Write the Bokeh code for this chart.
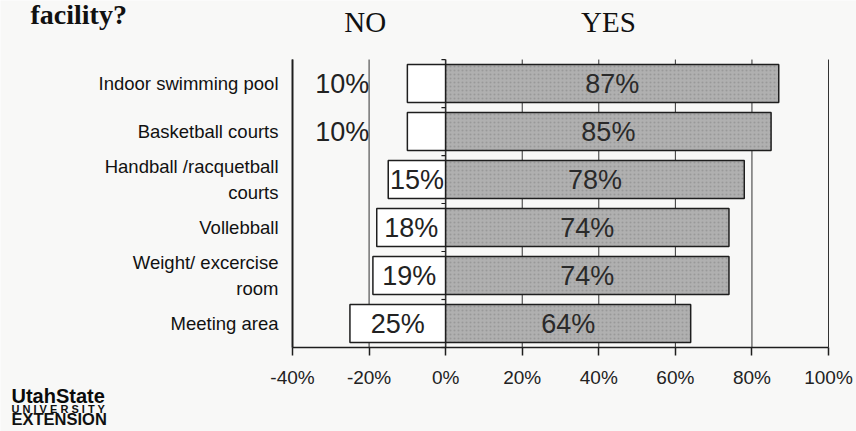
from bokeh.plotting import figure
from bokeh.models import (ColumnDataSource, Range1d, FixedTicker, PrintfTickFormatter,
                          Label, LinearAxis)
from bokeh.core.properties import value
from bokeh.embed import file_html
from bokeh.resources import INLINE

# Survey answers, top row first
facilities = ["Indoor swimming pool", "Basketball courts", "Handball /racquetball\ncourts",
              "Vollebball", "Weight/ excercise\nroom", "Meeting area"]
no_pct = [10, 10, 15, 18, 19, 25]
yes_pct = [87, 85, 78, 74, 74, 64]
x_ticks = [-40, -20, 0, 20, 40, 60, 80, 100]

BG = "#f8f8f7"
INK = "#1e1e1e"
SANS = "Liberation Sans"
SERIF = "Liberation Serif"

rows = list(range(len(facilities)))
row_lo, row_hi = -0.5, len(rows) - 0.5
x_lo, x_hi = x_ticks[0], x_ticks[-1]

# narrow NO bars get their label pushed to the left of the box
no_label_x = [-v / 2 if v >= 14 else -v - 17 for v in no_pct]
yes_label_x = [v / 2 for v in yes_pct]

src = ColumnDataSource(dict(
    y=rows,
    no_left=[-v for v in no_pct],
    yes_right=yes_pct,
    no_txt=[f"{v}%" for v in no_pct],
    yes_txt=[f"{v}%" for v in yes_pct],
    no_x=no_label_x,
    yes_x=yes_label_x,
))

# The frame fills the page; axes are pinned inside it so that the headings
# and the logo around the chart can be placed freely.
p = figure(width=856, height=431, output_backend="svg", toolbar_location=None,
           x_range=Range1d(-116.27, 107.31), y_range=Range1d(7.25, -1.73),
           min_border=0, x_axis_location=None, y_axis_location=None)
p.background_fill_color = BG
p.border_fill_color = BG
p.outline_line_color = None
p.xgrid.visible = False
p.ygrid.visible = False

# vertical grid lines every 20 %, only over the bar area
grid = ColumnDataSource(dict(x=x_ticks, y0=[row_lo] * len(x_ticks), y1=[row_hi] * len(x_ticks),
                             w=[1.6 if t in (x_lo, 0) else 1.0 for t in x_ticks]))
p.segment(x0="x", x1="x", y0="y0", y1="y1", line_width="w", line_color="#333333", source=grid)

# small separators on the zero line between rows
bounds_y = [r + 0.5 for r in [-1] + rows]
p.segment(x0=[0] * len(bounds_y), x1=[-1.1] * len(bounds_y), y0=bounds_y, y1=bounds_y,
          line_color=INK, line_width=1.2)

# x axis along the bottom of the bar area
xaxis = LinearAxis(fixed_location=row_hi, bounds=(x_lo, x_hi),
                   ticker=FixedTicker(ticks=x_ticks),
                   formatter=PrintfTickFormatter(format="%d%%"))
xaxis.major_tick_out = 8
xaxis.major_tick_in = 0
xaxis.minor_tick_out = 0
xaxis.minor_tick_in = 0
xaxis.axis_line_color = INK
xaxis.axis_line_width = 1.6
xaxis.major_tick_line_color = INK
xaxis.major_tick_line_width = 1.5
xaxis.major_label_text_font = SANS
xaxis.major_label_text_font_size = "19px"
xaxis.major_label_text_color = "#222222"
xaxis.major_label_standoff = 11
p.add_layout(xaxis, "below")

# category axis with facility names
yaxis = LinearAxis(fixed_location=x_lo, bounds=(row_lo, row_hi),
                   ticker=FixedTicker(ticks=rows))
yaxis.major_label_overrides = {i: f for i, f in zip(rows, facilities)}
yaxis.major_tick_out = 0
yaxis.major_tick_in = 0
yaxis.minor_tick_out = 0
yaxis.minor_tick_in = 0
yaxis.axis_line_color = INK
yaxis.axis_line_width = 1.6
yaxis.major_label_text_font = SANS
yaxis.major_label_text_font_size = "18.5px"
yaxis.major_label_text_color = "#111111"
yaxis.major_label_standoff = 14
p.add_layout(yaxis, "left")

# NO bars
p.hbar(y="y", left="no_left", right=0, height=0.79, source=src,
       fill_color="white", line_color=INK, line_width=1.5)
# YES bars, stippled grey
p.hbar(y="y", left=0, right="yes_right", height=0.79, source=src,
       fill_color="#b0b0b0", line_color=INK, line_width=1.5,
       hatch_pattern=".", hatch_color="#6e6e6e", hatch_alpha=0.35, hatch_scale=4)

p.text(x="no_x", y="y", text="no_txt", source=src, text_align="center",
       text_baseline="middle", text_font=value(SANS), text_font_size="27px",
       text_color="#222222")
p.text(x="yes_x", y="y", text="yes_txt", source=src, text_align="center",
       text_baseline="middle", text_font=value(SANS), text_font_size="27px",
       text_color="#2a2a2a")

# headings
p.add_layout(Label(x=30, y=417, x_units="screen", y_units="screen", text="facility?",
                   text_font=SERIF, text_font_style="bold", text_font_size="28px",
                   text_color="#111111", text_baseline="alphabetic"))
p.add_layout(Label(x=-21, y=410, y_units="screen", text="NO", text_align="center",
                   text_font=SERIF, text_font_size="29px", text_color="#111111",
                   text_baseline="alphabetic"))
p.add_layout(Label(x=42.5, y=410, y_units="screen", text="YES", text_align="center",
                   text_font=SERIF, text_font_size="29px", text_color="#111111",
                   text_baseline="alphabetic"))

# extension logo
p.add_layout(Label(x=11, y=36, x_units="screen", y_units="screen", text="UtahState",
                   text_font=SANS, text_font_style="bold",
                   text_font_size="20px", text_color="#0a0a0a", text_baseline="alphabetic"))
p.add_layout(Label(x=11, y=23, x_units="screen", y_units="screen",
                   text="U N I V E R S I T Y",
                   text_font=SANS, text_font_style="bold", text_font_size="11px",
                   text_color="#111111", text_baseline="alphabetic"))
p.add_layout(Label(x=11, y=13, x_units="screen", y_units="screen", text="EXTENSION",
                   text_font=SANS, text_font_style="bold", text_font_size="16.5px",
                   text_color="#111111", text_baseline="alphabetic"))

open("out.html", "w").write(file_html(p, INLINE))
